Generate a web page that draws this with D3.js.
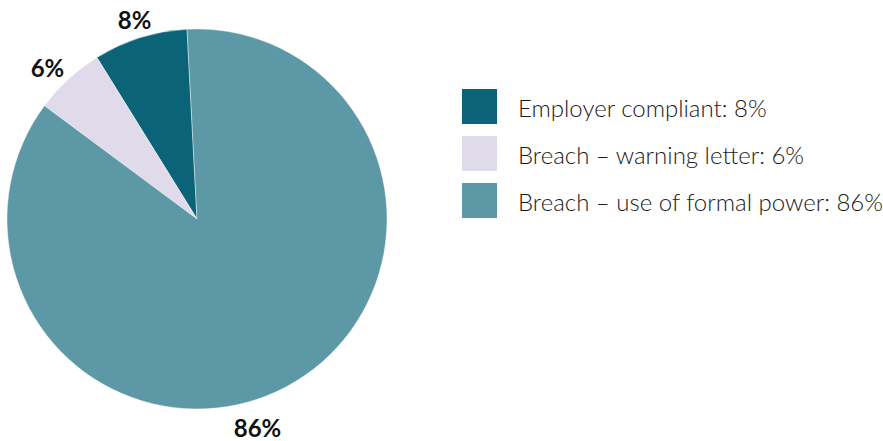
<!DOCTYPE html>
<html>
<head>
<meta charset="utf-8">
<script src="https://cdn.jsdelivr.net/npm/d3@7"></script>
<style>
  html, body { margin: 0; padding: 0; background: #fff; }
  svg { display: block; }
</style>
</head>
<body>
<svg id="chart" width="883" height="441"></svg>
<script>
// Outcome categories and their shares (percent)
const categories = ["Employer compliant", "Breach \u2013 warning letter", "Breach \u2013 use of formal power"];
const values = [8, 6, 86];
const colors = ["#0b6378", "#dfdbea", "#5c98a6"];

const svg = d3.select("#chart");

const cx = 197, cy = 219, radius = 190;
const deg = Math.PI / 180;

// Slices run counter-clockwise from just left of 12 o'clock
const pie = d3.pie()
  .value(d => d.value)
  .sort(null)
  .startAngle(-3 * deg)
  .endAngle(-363 * deg);

const data = categories.map((c, i) => ({ name: c, value: values[i], color: colors[i] }));
const arcs = pie(data);

const arc = d3.arc().innerRadius(0).outerRadius(radius);

const g = svg.append("g").attr("transform", `translate(${cx},${cy})`);

g.selectAll("path.slice")
  .data(arcs)
  .join("path")
  .attr("class", "slice")
  .attr("d", arc)
  .attr("fill", d => d.data.color)
  .attr("stroke", "#fff")
  .attr("stroke-width", 0.4);

// Percentage labels just outside the rim
const labelRadius = [209, 213, 217];
const labelAngleShift = [0, -2 * deg, 12 * deg]; // nudge the large slice's label toward the bottom
const labelAngle = (d, i) => (d.startAngle + d.endAngle) / 2 + labelAngleShift[i];

g.selectAll("text.pct")
  .data(arcs)
  .join("text")
  .attr("class", "pct")
  .attr("x", (d, i) => Math.sin(labelAngle(d, i)) * labelRadius[i])
  .attr("y", (d, i) => -Math.cos(labelAngle(d, i)) * labelRadius[i])
  .attr("text-anchor", "middle")
  .attr("dominant-baseline", "central")
  .attr("font-family", "Lato, 'Open Sans', sans-serif")
  .attr("font-weight", 700)
  .attr("font-size", 24)
  .attr("fill", "#111")
  .text(d => d.data.value + "%");

// Legend
const legend = svg.append("g").attr("transform", "translate(462,89)");
const rowH = 47;
const items = legend.selectAll("g.item")
  .data(data)
  .join("g")
  .attr("class", "item")
  .attr("transform", (d, i) => `translate(0,${i * rowH})`);

items.append("rect")
  .attr("width", 35)
  .attr("height", 35)
  .attr("fill", d => d.color);

items.append("text")
  .attr("x", 56)
  .attr("y", 18)
  .attr("dominant-baseline", "central")
  .attr("font-family", "Lato, 'Open Sans', sans-serif")
  .attr("font-weight", 300)
  .attr("font-size", 24)
  .attr("fill", "#1a1a1a")
  .text(d => `${d.name}: ${d.value}%`);
</script>
</body>
</html>
